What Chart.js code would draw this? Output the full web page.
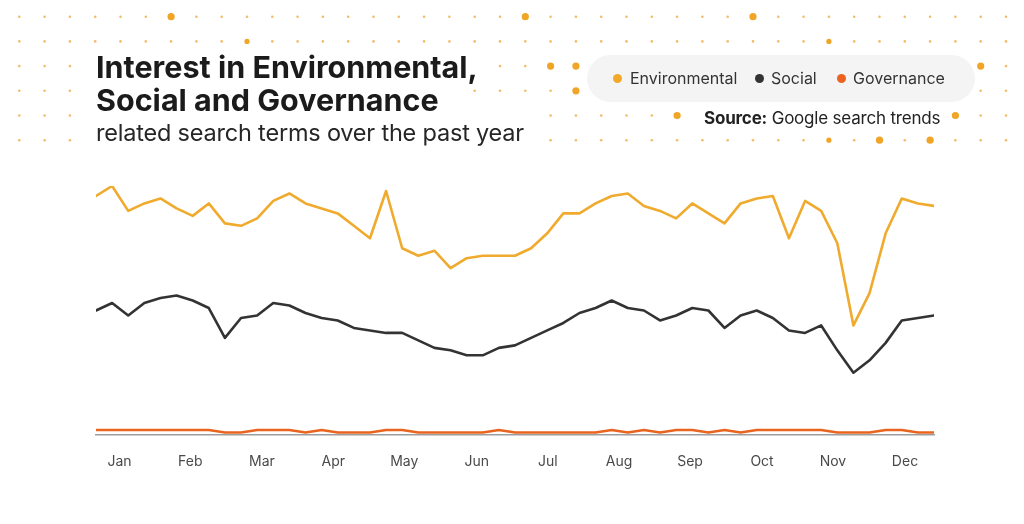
<!DOCTYPE html>
<html>
<head>
<meta charset="utf-8">
<script src="https://cdn.jsdelivr.net/npm/chart.js@4.4.1/dist/chart.umd.min.js"></script>
<style>
html,body{margin:0;padding:0;background:#fff;width:1024px;height:524px;overflow:hidden;font-family:Inter,"Noto Sans",sans-serif;}
#dots{position:absolute;left:0;top:0;}
#wrap{position:absolute;left:0;top:0;width:1024px;height:524px;}
.title{position:absolute;left:96px;top:51px;font-weight:700;font-size:30.5px;line-height:32.7px;color:#1b1b1b;letter-spacing:0px;white-space:nowrap;}
.sub{position:absolute;left:96px;top:118px;font-size:23.5px;line-height:30px;color:#262626;letter-spacing:-0.2px;white-space:nowrap;}
.legend{position:absolute;left:587px;top:55px;width:388px;height:47px;border-radius:24px;background:#f4f4f4;}
.item{position:absolute;top:14px;font-size:16px;line-height:18px;color:#333;white-space:nowrap;}
.dot{position:absolute;top:4.5px;width:9px;height:9px;border-radius:50%;}
.source{position:absolute;left:704px;top:108px;font-size:17px;line-height:20px;color:#222;white-space:nowrap;letter-spacing:-0.2px;}
</style>
</head>
<body>
<svg id="dots" width="1024" height="160"></svg>
<div id="wrap"><canvas id="c"></canvas></div>
<div class="title">Interest in Environmental,<br>Social and Governance</div>
<div class="sub">related search terms over the past year</div>
<div class="legend">
  <div class="item" style="left:26px"><span class="dot" style="left:0;background:#F2A92A"></span><span style="padding-left:17px">Environmental</span></div>
  <div class="item" style="left:168px"><span class="dot" style="left:0;background:#333"></span><span style="padding-left:16px">Social</span></div>
  <div class="item" style="left:250px"><span class="dot" style="left:0;background:#EC6320"></span><span style="padding-left:16px">Governance</span></div>
</div>
<div class="source"><b>Source:</b> Google search trends</div>
<script>
// ---- data ----
const months = ['Jan','Feb','Mar','Apr','May','Jun','Jul','Aug','Sep','Oct','Nov','Dec'];
const monthTickWeeks = [1.46,5.85,10.3,14.72,19.13,23.63,28.04,32.46,36.86,41.33,45.73,50.2];
const environmental = [96,100,90,93,95,91,88,93,85,84,87,94,97,93,91,89,84,79,98,75,72,74,67,71,72,72,72,75,81,89,89,93,96,97,92,90,87,93,89,85,93,95,96,79,94,90,77,44,57,81,95,93,92];
const social = [50,53,48,53,55,56,54,51,39,47,48,53,52,49,47,46,43,42,41,41,38,35,34,32,32,35,36,39,42,45,49,51,54,51,50,46,48,51,50,43,48,50,47,42,41,44,34,25,30,37,46,47,48];
const governance = [2,2,2,2,2,2,2,2,1,1,2,2,2,1,2,1,1,1,2,2,1,1,1,1,1,2,1,1,1,1,1,1,2,1,2,1,2,2,1,2,1,2,2,2,2,2,1,1,1,2,2,1,1];

// ---- decorative dot grid ----
(function(){
  const svg = document.getElementById('dots');
  const rows = [
    {cols:[[0,39]], big:[6,20,29], med:[]},
    {cols:[[0,39]], big:[], med:[9,32]},
    {cols:[[0,2],[19,22],[38,39]], big:[21,22,38], med:[]},
    {cols:[[0,2],[18,22],[38,39]], big:[22], med:[]},
    {cols:[[0,2],[21,26],[37,39]], big:[26,37], med:[]},
    {cols:[[0,2],[21,39]], big:[34,36], med:[32]}
  ];
  let html = '';
  rows.forEach((r,ri)=>{
    const y = 16.7 + 24.7*ri;
    r.cols.forEach(([a,b])=>{
      for(let c=a;c<=b;c++){
        const x = 19.3 + 25.3*c;
        let rad = 1.3, col = '#F2BC68';
        if (r.big.includes(c)) { rad = 3.6; col = '#F0A526'; }
        else if (r.med.includes(c)) { rad = 2.6; col = '#F0A526'; }
        html += `<circle cx="${x}" cy="${y}" r="${rad}" fill="${col}"/>`;
      }
    });
  });
  svg.innerHTML = html;
})();

// ---- chart ----
const toPoints = arr => arr.map((v,i)=>({x:i,y:v}));
new Chart(document.getElementById('c'), {
  type:'line',
  data:{datasets:[
    {label:'Governance', data:toPoints(governance), borderColor:'#E9641F', borderWidth:2.6},
    {label:'Social', data:toPoints(social), borderColor:'#333333', borderWidth:2.6},
    {label:'Environmental', data:toPoints(environmental), borderColor:'#F0AA2E', borderWidth:2.6}
  ]},
  options:{
    animation:false, responsive:true, maintainAspectRatio:false,
    layout:{padding:{left:96,right:90,top:186,bottom:39}},
    plugins:{legend:{display:false},tooltip:{enabled:false}},
    elements:{point:{radius:0}, line:{tension:0, borderJoinStyle:'round', borderCapStyle:'round'}},
    scales:{
      x:{type:'linear', min:0, max:52, offset:false,
         grid:{display:false, drawTicks:false},
         border:{display:true, color:'#9d9d9d', width:1.5},
         afterBuildTicks:s=>{ s.ticks = monthTickWeeks.map(v=>({value:v})); },
         afterFit:s=>{ s.height = 50; },
         ticks:{autoSkip:false, maxRotation:0, padding:18, color:'#4a4a4a', font:{family:'Inter', size:14},
                callback:(v,i)=>months[i]}},
      y:{display:false, min:0, max:100}
    }
  }
});
</script>
</body>
</html>
